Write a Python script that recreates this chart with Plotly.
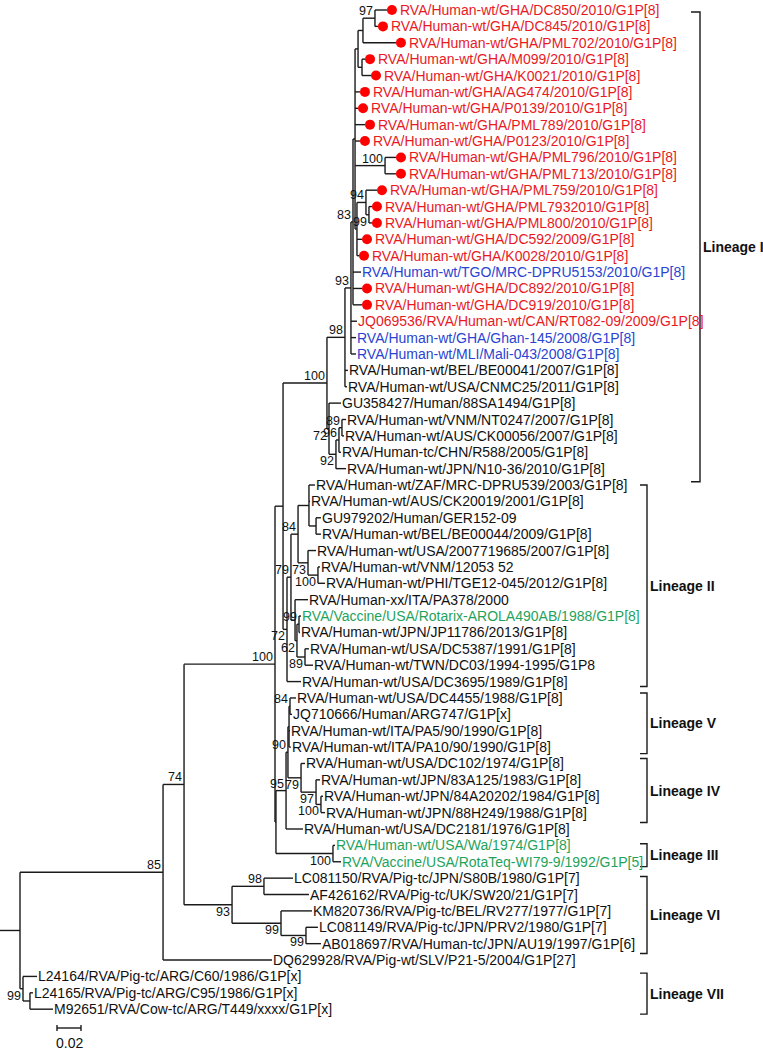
import plotly.graph_objects as go

# ---------------- data ----------------
leaf_names = [
    "RVA/Human-wt/GHA/DC850/2010/G1P[8]", "RVA/Human-wt/GHA/DC845/2010/G1P[8]",
    "RVA/Human-wt/GHA/PML702/2010/G1P[8]", "RVA/Human-wt/GHA/M099/2010/G1P[8]",
    "RVA/Human-wt/GHA/K0021/2010/G1P[8]", "RVA/Human-wt/GHA/AG474/2010/G1P[8]",
    "RVA/Human-wt/GHA/P0139/2010/G1P[8]", "RVA/Human-wt/GHA/PML789/2010/G1P[8]",
    "RVA/Human-wt/GHA/P0123/2010/G1P[8]", "RVA/Human-wt/GHA/PML796/2010/G1P[8]",
    "RVA/Human-wt/GHA/PML713/2010/G1P[8]", "RVA/Human-wt/GHA/PML759/2010/G1P[8]",
    "RVA/Human-wt/GHA/PML7932010/G1P[8]", "RVA/Human-wt/GHA/PML800/2010/G1P[8]",
    "RVA/Human-wt/GHA/DC592/2009/G1P[8]", "RVA/Human-wt/GHA/K0028/2010/G1P[8]",
    "RVA/Human-wt/TGO/MRC-DPRU5153/2010/G1P[8]", "RVA/Human-wt/GHA/DC892/2010/G1P[8]",
    "RVA/Human-wt/GHA/DC919/2010/G1P[8]", "JQ069536/RVA/Human-wt/CAN/RT082-09/2009/G1P[8]",
    "RVA/Human-wt/GHA/Ghan-145/2008/G1P[8]", "RVA/Human-wt/MLI/Mali-043/2008/G1P[8]",
    "RVA/Human-wt/BEL/BE00041/2007/G1P[8]", "RVA/Human-wt/USA/CNMC25/2011/G1P[8]",
    "GU358427/Human/88SA1494/G1P[8]", "RVA/Human-wt/VNM/NT0247/2007/G1P[8]",
    "RVA/Human-wt/AUS/CK00056/2007/G1P[8]", "RVA/Human-tc/CHN/R588/2005/G1P[8]",
    "RVA/Human-wt/JPN/N10-36/2010/G1P[8]", "RVA/Human-wt/ZAF/MRC-DPRU539/2003/G1P[8]",
    "RVA/Human-wt/AUS/CK20019/2001/G1P[8]", "GU979202/Human/GER152-09",
    "RVA/Human-wt/BEL/BE00044/2009/G1P[8]", "RVA/Human-wt/USA/2007719685/2007/G1P[8]",
    "RVA/Human-wt/VNM/12053 52", "RVA/Human-wt/PHI/TGE12-045/2012/G1P[8]",
    "RVA/Human-xx/ITA/PA378/2000", "RVA/Vaccine/USA/Rotarix-AROLA490AB/1988/G1P[8]",
    "RVA/Human-wt/JPN/JP11786/2013/G1P[8]", "RVA/Human-wt/USA/DC5387/1991/G1P[8]",
    "RVA/Human-wt/TWN/DC03/1994-1995/G1P8", "RVA/Human-wt/USA/DC3695/1989/G1P[8]",
    "RVA/Human-wt/USA/DC4455/1988/G1P[8]", "JQ710666/Human/ARG747/G1P[x]",
    "RVA/Human-wt/ITA/PA5/90/1990/G1P[8]", "RVA/Human-wt/ITA/PA10/90/1990/G1P[8]",
    "RVA/Human-wt/USA/DC102/1974/G1P[8]", "RVA/Human-wt/JPN/83A125/1983/G1P[8]",
    "RVA/Human-wt/JPN/84A20202/1984/G1P[8]", "RVA/Human-wt/JPN/88H249/1988/G1P[8]",
    "RVA/Human-wt/USA/DC2181/1976/G1P[8]", "RVA/Human-wt/USA/Wa/1974/G1P[8]",
    "RVA/Vaccine/USA/RotaTeq-WI79-9/1992/G1P[5]", "LC081150/RVA/Pig-tc/JPN/S80B/1980/G1P[7]",
    "AF426162/RVA/Pig-tc/UK/SW20/21/G1P[7]", "KM820736/RVA/Pig-tc/BEL/RV277/1977/G1P[7]",
    "LC081149/RVA/Pig-tc/JPN/PRV2/1980/G1P[7]", "AB018697/RVA/Human-tc/JPN/AU19/1997/G1P[6]",
    "DQ629928/RVA/Pig-wt/SLV/P21-5/2004/G1P[27]", "L24164/RVA/Pig-tc/ARG/C60/1986/G1P[x]",
    "L24165/RVA/Pig-tc/ARG/C95/1986/G1P[x]", "M92651/RVA/Cow-tc/ARG/T449/xxxx/G1P[x]",
]

# tip depth (substitutions per site from the root)
leaf_depth = [
    0.3058, 0.2983, 0.3133, 0.2875, 0.2925, 0.2833, 0.2817, 0.2875, 0.2833, 0.3133,
    0.3133, 0.2975, 0.2933, 0.2933, 0.2850, 0.2825, 0.2842, 0.2850, 0.2850, 0.2808,
    0.2800, 0.2800, 0.2733, 0.2725, 0.2675, 0.2717, 0.2700, 0.2675, 0.2717, 0.2458,
    0.2417, 0.2508, 0.2508, 0.2467, 0.2500, 0.2542, 0.2400, 0.2342, 0.2333, 0.2408,
    0.2442, 0.2342, 0.2300, 0.2267, 0.2250, 0.2258, 0.2375, 0.2500, 0.2525, 0.2542,
    0.2358, 0.2625, 0.2675, 0.2275, 0.2408, 0.2433, 0.2483, 0.2508, 0.2100, 0.0142,
    0.0108, 0.0275,
]

leaf_group = (["gha"] * 16 + ["blue", "gha", "gha", "red", "blue", "blue"] + ["black"] * 15
              + ["green"] + ["black"] * 13 + ["green", "green"] + ["black"] * 9)

node_names = ["n97", "nP", "nMK", "nPM", "n100f", "n94b", "nPML", "n99a", "nCore", "n83",
              "n93", "n98", "n89", "n96", "n92", "n72", "nI",
              "nG", "nZ", "n100d", "n73", "n84", "n99c", "n89b", "n62", "n72b", "n79", "nL2", "nA",
              "n84v", "nV5", "n100e", "n97b", "n79b", "n90", "n95", "n100c", "nC", "n100b",
              "n98v", "n99e", "n99d", "n93v", "n74", "n85", "nVIIb", "nVII", "root"]
node_depth = [0.2958, 0.2858, 0.2850, 0.2817, 0.3042, 0.2908, 0.2883, 0.2808, 0.2792, 0.2775,
              0.2758, 0.2708, 0.2683, 0.2658, 0.2633, 0.2575, 0.2558,
              0.2467, 0.2408, 0.2483, 0.2400, 0.2317, 0.2325, 0.2375, 0.2308, 0.2292, 0.2258, 0.2225, 0.2192,
              0.2250, 0.2242, 0.2508, 0.2467, 0.2342, 0.2233, 0.2217, 0.2608, 0.2133, 0.2125,
              0.2033, 0.2383, 0.2175, 0.1767, 0.1367, 0.1192, 0.0083, 0.0025, 0.0]
node_children = [
    [0, 1], ["n97", 2], [3, 4], ["nP", "nMK"], [9, 10], [12, 13], [11, "n94b"], ["nPML", 14, 15],
    ["nPM", 5, 6, 7, 8, "n100f", "n99a"], ["nCore", 16, 17, 18],
    ["n83", 19, 20, 21], ["n93", 22, 23], [25, 26], ["n89", 27], ["n96", 28], [24, "n92"], ["n98", "n72"],
    [31, 32], [29, 30, "nG"], [34, 35], [33, "n100d"], ["nZ", "n73"], [37, 38], [39, 40],
    ["n99c", "n89b"], [36, "n62"], ["n84", "n72b"], ["n79", 41], ["nI", "nL2"],
    [42, 43], ["n84v", 44, 45], [48, 49], [47, "n100e"], [46, "n97b"], ["nV5", "n79b"],
    ["n90", 50], [51, 52], ["n95", "n100c"], ["nA", "nC"],
    [53, 54], [56, 57], [55, "n99e"], ["n98v", "n99d"], ["n100b", "n93v"], ["n74", 58],
    [60, 61], [59, "nVIIb"], ["n85", "nVII"],
]
node_support = ["97", "", "", "", "100", "99", "94", "", "", "83",
                "93", "98", "89", "96", "92", "72", "100",
                "", "", "100", "73", "84", "99", "89", "62", "", "79", "72", "",
                "84", "", "100", "97", "79", "90", "95", "100", "", "100",
                "98", "99", "99", "93", "74", "85", "", "99", ""]

lineage_labels = ["Lineage I", "Lineage II", "Lineage V", "Lineage IV", "Lineage III",
                  "Lineage VI", "Lineage VII"]
lineage_top = [0.12, 29.0, 41.7, 45.7, 50.9, 52.9, 58.8]       # in leaf rows
lineage_bottom = [28.8, 41.3, 45.4, 49.6, 52.3, 57.6, 61.3]

scale_length = 0.02
scale_label = "0.02"

# ---------------- geometry helpers ----------------
W, H = 763, 1050
X0 = -20 / 1200
X1 = X0 + W / 1200
Y0 = -10 / 16.38
Y1 = Y0 + H / 16.38
PXX = (X1 - X0) / W          # data per pixel (x)
PXY = (Y1 - Y0) / H          # data per pixel (y)


def px2x(px):
    return X0 + px * PXX


def px2y(py):
    return Y0 + py * PXY


idx = {n: k for k, n in enumerate(node_names)}
depth = {i: d for i, d in enumerate(leaf_depth)}
for n, d in zip(node_names, node_depth):
    depth[n] = d
ypos = {i: float(i) for i in range(len(leaf_names))}
parent = {}
for n, ch in zip(node_names, node_children):
    for c in ch:
        parent[c] = n


def gety(n):
    if n in ypos:
        return ypos[n]
    ch = node_children[idx[n]]
    ys = [gety(c) for c in ch]
    ypos[n] = (ys[0] + ys[-1]) / 2
    return ypos[n]


for n in node_names:
    gety(n)

# tree line segments
lx, ly = [], []
for n, ch in zip(node_names, node_children):
    xn = depth[n]
    lx += [xn, xn, None]
    ly += [ypos[ch[0]], ypos[ch[-1]], None]
    for c in ch:
        lx += [xn, depth[c], None]
        ly += [ypos[c], ypos[c], None]
lx += [X0, depth["root"], None]
ly += [ypos["root"], ypos["root"], None]

fig = go.Figure()
fig.add_trace(go.Scatter(x=lx, y=ly, mode="lines", line=dict(color="#1a1a1a", width=1.4),
                         hoverinfo="skip", showlegend=False))

# red dots for Ghana strains
dot_x = [depth[i] + 5 * PXX for i, g in enumerate(leaf_group) if g == "gha"]
dot_y = [ypos[i] for i, g in enumerate(leaf_group) if g == "gha"]
fig.add_trace(go.Scatter(x=dot_x, y=dot_y, mode="markers",
                         marker=dict(color="#ff0000", size=10, line=dict(width=0)),
                         hoverinfo="skip", showlegend=False))

colors = {"gha": "#e8191f", "red": "#e8191f", "blue": "#2a44d2", "green": "#1fa35c", "black": "#111111"}
FONT = "Liberation Sans, Arial, sans-serif"
FS = 14
ann = []
for i, name in enumerate(leaf_names):
    g = leaf_group[i]
    ann.append(dict(x=depth[i], y=ypos[i], text=name, showarrow=False, xanchor="left",
                    yanchor="middle", xshift=(11 if g == "gha" else -1),
                    font=dict(family=FONT, size=FS, color=colors[g])))

for n, s in zip(node_names, node_support):
    if not s:
        continue
    p = parent.get(n)
    last = p is not None and node_children[idx[p]][-1] == n
    ann.append(dict(x=depth[n], y=ypos[n], text=s, showarrow=False, xanchor="right",
                    yanchor=("top" if last else "bottom"), xshift=0,
                    yshift=(2 if last else -2),
                    font=dict(family=FONT, size=12.5, color="#111111")))

# lineage brackets
bx, by = [], []
for k, (lab, t, b) in enumerate(zip(lineage_labels, lineage_top, lineage_bottom)):
    xb = px2x(700) if k == 0 else px2x(647)
    tick = 9 * PXX if k == 0 else 7 * PXX
    bx += [xb - tick, xb, xb, xb - tick, None]
    by += [t, t, b, b, None]
    ann.append(dict(x=xb, y=(t + b) / 2, text="<b>" + lab + "</b>", showarrow=False,
                    xanchor="left", yanchor="middle", xshift=1,
                    font=dict(family=FONT, size=14, color="#111111")))
fig.add_trace(go.Scatter(x=bx, y=by, mode="lines", line=dict(color="#1a1a1a", width=1.4),
                         hoverinfo="skip", showlegend=False))

# scale bar
sx0 = px2x(57)
sy = px2y(1028)
th = 3 * PXY
fig.add_trace(go.Scatter(x=[sx0, sx0 + scale_length, None, sx0, sx0, None,
                            sx0 + scale_length, sx0 + scale_length],
                         y=[sy, sy, None, sy - th, sy + th, None, sy - th, sy + th],
                         mode="lines", line=dict(color="#1a1a1a", width=1.4),
                         hoverinfo="skip", showlegend=False))
ann.append(dict(x=sx0 + scale_length / 2, y=px2y(1043), text=scale_label, showarrow=False,
                xanchor="center", yanchor="middle",
                font=dict(family=FONT, size=FS, color="#111111")))

fig.update_layout(
    width=W, height=H, margin=dict(l=0, r=0, t=0, b=0),
    paper_bgcolor="white", plot_bgcolor="white",
    xaxis=dict(range=[X0, X1], visible=False, fixedrange=True),
    yaxis=dict(range=[Y1, Y0], visible=False, fixedrange=True),
    annotations=ann, showlegend=False,
)
fig.write_html("out.html", config={"displayModeBar": False},
               post_script="document.body.style.margin='0px';document.body.style.padding='0px';")
